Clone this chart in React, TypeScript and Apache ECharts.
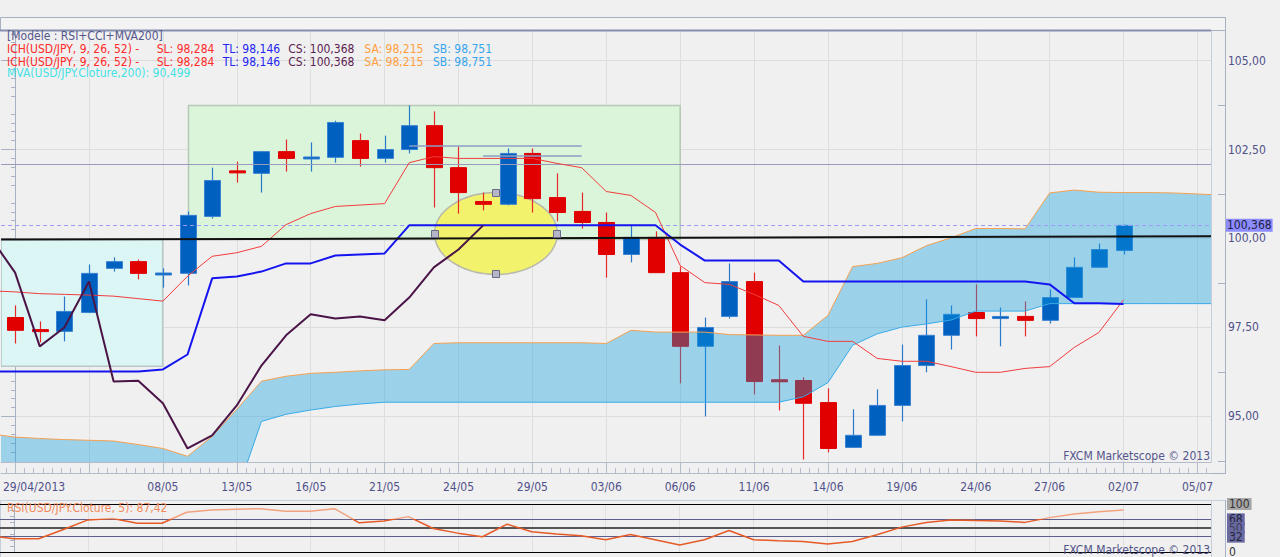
import React, { useEffect, useRef } from "react";
import * as echarts from "echarts";

const FONT = '"DejaVu Sans Condensed", "Liberation Sans", sans-serif';
const FS = 12;

const XMIN = -0.57;
const XMAX = 48.55;
const YMIN = 93.72;
const YMAX = 105.83;
const RSI_TOP = 504;
const RSI_H = 48;

// x-axis: candle index of each major tick and its label
const majorTickIndex = [0, 3, 6, 9, 12, 15, 18, 21, 24, 27, 30, 33, 36, 39, 42, 45, 48];
const majorTickLabels = ["29/04/2013", "", "08/05", "13/05", "16/05", "21/05", "24/05", "29/05", "03/06", "06/06", "11/06", "14/06", "19/06", "24/06", "27/06", "02/07", "05/07"];
const priceTicks = [95, 97.5, 100, 102.5, 105];

// candles (index 0..45)
const opens = [97.78, 97.44, 97.39, 97.92, 99.16, 99.35, 99.0, 99.02, 100.62, 101.9, 101.83, 102.44, 102.26, 102.28, 102.75, 102.25, 102.5, 103.17, 101.99, 101.04, 100.96, 102.39, 101.15, 100.76, 100.45, 99.55, 100.03, 99.04, 96.97, 97.81, 98.79, 96.03, 96.01, 95.39, 94.13, 94.47, 95.31, 96.43, 97.28, 97.92, 97.75, 97.81, 97.7, 98.34, 99.19, 99.66];
const closes = [97.42, 97.4, 97.95, 99.02, 99.35, 99.02, 99.03, 100.65, 101.63, 101.86, 102.44, 102.25, 102.29, 103.26, 102.25, 102.5, 103.17, 101.99, 101.29, 100.96, 102.39, 101.12, 100.73, 100.45, 99.55, 100.03, 99.04, 96.97, 97.5, 98.79, 95.98, 96.0, 95.37, 94.1, 94.47, 95.31, 96.43, 97.28, 97.87, 97.75, 97.81, 97.7, 98.34, 99.19, 99.69, 100.368];
const lows = [97.05, 97.08, 97.11, 97.9, 99.07, 98.85, 98.62, 98.68, 100.56, 101.57, 101.29, 101.88, 101.88, 102.13, 102.02, 102.13, 102.39, 100.87, 100.7, 100.79, 100.93, 100.73, 100.48, 100.28, 98.9, 99.33, 99.04, 95.93, 95.0, 97.75, 95.62, 95.17, 93.79, 93.99, 94.13, 94.47, 94.86, 96.24, 96.88, 97.25, 96.97, 97.25, 97.61, 98.34, 99.19, 99.55];
const highs = [98.12, 97.67, 98.37, 99.27, 99.47, 99.41, 99.16, 100.76, 101.99, 102.16, 102.46, 102.78, 102.7, 103.31, 102.95, 102.89, 103.74, 103.57, 102.58, 101.29, 102.53, 102.53, 101.83, 101.29, 100.73, 100.39, 100.2, 99.21, 97.78, 99.3, 99.04, 96.99, 96.1, 95.79, 95.2, 95.76, 97.02, 98.29, 98.12, 98.71, 98.06, 98.23, 98.57, 99.47, 99.86, 100.39];

// Ichimoku lines, starting at index -1
const signalLine = [98.53, 98.5, 98.45, 98.43, 98.41, 98.38, 98.31, 98.24, 98.94, 99.5, 99.6, 99.78, 100.39, 100.7, 100.9, 100.94, 100.98, 102.13, 102.3, 102.25, 102.25, 102.25, 102.25, 102.11, 101.99, 101.32, 101.21, 100.73, 99.24, 98.76, 98.71, 98.43, 98.12, 97.25, 97.11, 97.11, 96.63, 96.55, 96.55, 96.4, 96.24, 96.24, 96.35, 96.4, 96.94, 97.36, 98.28];
const trendLineTL = [96.26, 96.26, 96.26, 96.26, 96.26, 96.26, 96.26, 96.32, 96.74, 98.88, 98.93, 99.07, 99.3, 99.3, 99.52, 99.55, 99.58, 100.37, 100.37, 100.37, 100.37, 100.37, 100.37, 100.37, 100.37, 100.37, 100.37, 100.37, 99.83, 99.38, 99.38, 99.38, 99.38, 98.79, 98.79, 98.79, 98.79, 98.79, 98.79, 98.79, 98.79, 98.79, 98.79, 98.71, 98.18, 98.18, 98.16];
// cloud, index -1 .. 49
const spanA = [94.51, 94.42, 94.38, 94.35, 94.33, 94.31, 94.21, 94.1, 93.88, 94.44, 95.2, 95.99, 96.13, 96.21, 96.24, 96.28, 96.31, 96.32, 97.05, 97.07, 97.07, 97.07, 97.07, 97.07, 97.07, 97.05, 97.42, 97.37, 97.37, 97.37, 97.3, 97.29, 97.28, 97.28, 97.84, 99.21, 99.3, 99.46, 99.8, 100.02, 100.28, 100.28, 100.27, 101.28, 101.36, 101.3, 101.29, 101.29, 101.28, 101.25, 101.22];
const spanB = [92.85, 92.85, 92.85, 92.85, 92.85, 92.85, 92.85, 92.85, 92.85, 92.85, 92.85, 94.86, 95.06, 95.18, 95.28, 95.35, 95.4, 95.4, 95.4, 95.4, 95.4, 95.4, 95.4, 95.4, 95.4, 95.4, 95.4, 95.4, 95.4, 95.4, 95.4, 95.4, 95.4, 95.55, 95.95, 97.0, 97.32, 97.51, 97.6, 97.71, 97.96, 97.96, 97.96, 98.17, 98.17, 98.17, 98.17, 98.17, 98.17, 98.17, 98.17];
// RSI(5), index -1 .. 45
const rsiValues = [34, 27.5, 27.5, 47, 66.9, 69.6, 60, 60, 82.8, 87.6, 89, 90.3, 84.9, 84.9, 90.3, 60.7, 64.8, 73.7, 48.9, 39.3, 31.7, 58, 42, 37.3, 33.7, 25.5, 36.4, 25.5, 14.5, 25.5, 44.7, 25.5, 23.4, 21.9, 16.6, 21.9, 35.8, 51.8, 61.3, 66.9, 65.8, 64.8, 61.7, 71.6, 79.3, 84.1, 87.4];
const rsiLevels = [100, 68, 50, 32, 0];

// drawn annotations (data coordinates)
const resistanceLevel = 102.08;
const lastClose = 100.368;
const blackTrend = [[XMIN, 99.97], [XMAX, 100.06]];
const shortLines = [[16, 23, 102.61], [19, 23, 102.33]];
const zoneRects = [[XMIN, 99.97, 5.99, 96.41], [7.04, 103.74, 27, 99.97]];
const highlightEllipse = [[19.52, 100.14, 2.49, 1.15]];

const RED = "#e00000";
const BLUE = "#0060c0";

const fromIndex = (arr: number[], start: number) => arr.map((v, i) => [start + i, v]);

const minorXTicks: number[] = [];
for (let k = -1; k * 0.375 <= XMAX; k++) if (k % 8 !== 0) minorXTicks.push(k * 0.375);
const minorYTicks: number[] = [];
const midYTicks: number[] = [];
for (let v = 93.75; v <= YMAX; v += 0.25) {
  const r = Math.round(v * 100) / 100;
  if (Math.abs(r / 2.5 - Math.round(r / 2.5)) < 1e-6) continue;
  if (Math.abs(r / 1.25 - Math.round(r / 1.25)) < 1e-6) midYTicks.push(r);
  else minorYTicks.push(r);
}

const fmt = (v: number, d: number) => v.toFixed(d).replace(".", ",");

function buildOption(): any {
  const candleData = opens.map((o, i) => [i, o, closes[i], lows[i], highs[i]]);
  const cloudData = spanA.map((a, i) => [i - 1, a, spanB[i]]);
  const chikou = closes.slice(25).map((v, i) => [i - 1, v]);

  const legendRows: any[] = [
    { y: 36, parts: [{ x: 7, t: "[Modèle : RSI+CCI+MVA200]", c: "#55558a" }] },
    {
      y: 49.3,
      parts: [
        { x: 7, t: "ICH(USD/JPY, 9, 26, 52) -", c: "#ff2a2a" },
        { x: 156.7, t: "SL: 98,284", c: "#ff2a2a" },
        { x: 222.7, t: "TL: 98,146", c: "#2424f0" },
        { x: 288.3, t: "CS: " + fmt(lastClose, 3), c: "#5c2252" },
        { x: 364.3, t: "SA: 98,215", c: "#ffa040" },
        { x: 433, t: "SB: 98,751", c: "#38a6ee" },
      ],
    },
  ];
  legendRows.push({ y: 61.7, parts: legendRows[1].parts });
  legendRows.push({ y: 73.3, parts: [{ x: 7, t: "MVA(USD/JPY.Cloture,200): 90,499", c: "#44e2e6" }] });

  const texts: any[] = [];
  legendRows.forEach((row: any) =>
    row.parts.forEach((p: any) =>
      texts.push({
        type: "text", x: p.x, y: row.y, silent: true, z: 100,
        style: { text: p.t, fill: p.c, font: `${FS}px ${FONT}`, align: "left", verticalAlign: "middle" },
      })
    )
  );
  texts.push({
    type: "text", x: 7, y: 508, silent: true, z: 100,
    style: { text: "RSI(USD/JPY.Cloture, 5): 87,42", fill: "#f08a5c", font: `${FS}px ${FONT}`, align: "left", verticalAlign: "middle" },
  });
  [455.7, 549.5].forEach((y) =>
    texts.push({
      type: "text", x: 1210, y, silent: true, z: 100,
      style: { text: "FXCM Marketscope © 2013", fill: "#55558a", font: `${FS}px ${FONT}`, align: "right", verticalAlign: "middle" },
    })
  );

  const frameColor = "#a8b0c4";
  const lightFrame = "#c6cedc";
  const ln = (x1: number, y1: number, x2: number, y2: number, stroke: string, w = 1) => ({
    type: "line", silent: true, z: 90, shape: { x1, y1, x2, y2 }, style: { stroke, lineWidth: w },
  });
  const frame: any[] = [
    { type: "rect", silent: true, z: 0, shape: { x: 0.5, y: 17.5, width: 1225, height: 13 }, style: { fill: "#f3f3f3", stroke: frameColor, lineWidth: 1 } },
    ln(0, 30.5, 1211, 30.5, "#868eb0", 2),
    ln(1211.5, 31, 1211.5, 462, lightFrame),
    ln(1225.5, 17, 1225.5, 474, frameColor),
    ln(1211, 473.5, 1225.5, 473.5, frameColor),
    { type: "rect", silent: true, z: 0, shape: { x: 0.5, y: 500.5, width: 1225, height: 60 }, style: { fill: "none", stroke: lightFrame, lineWidth: 1 } },
    ln(1211.5, 500, 1211.5, 557, lightFrame),
    ln(1225.5, 500, 1225.5, 557, frameColor),
  ];

  const axisLabelStyle = { color: "#50508a", fontSize: FS, fontFamily: FONT };

  const rsiLabelBase = { show: true, position: "end", distance: 16, padding: [0, 2, 0, 2], fontSize: FS, fontFamily: FONT };
  const rsiStyles: any = {
    100: { line: { color: "#000", width: 1, type: "solid" }, bg: "#a6a6a6", fg: "#333" },
    68: { line: { color: "#5e5e8c", width: 1, type: "solid" }, bg: "#6a6aa2", fg: "#22223c" },
    50: { line: { color: "#555", width: 2, type: "solid" }, bg: "#6a6aa2", fg: "#3c3c58" },
    32: { line: { color: "#5e5e8c", width: 1, type: "solid" }, bg: "#6a6aa2", fg: "#22223c" },
    0: { line: { color: "#000", width: 1, type: "solid" }, bg: "transparent", fg: "#333" },
  };
  const split = (100 - 68) / 100;
  const rsiGradient = {
    type: "linear", x: 0, y: RSI_TOP, x2: 0, y2: RSI_TOP + RSI_H, global: true,
    colorStops: [
      { offset: 0, color: "#f3a27e" }, { offset: split, color: "#f3a27e" },
      { offset: split, color: "#e65a26" }, { offset: 1, color: "#e65a26" },
    ],
  };

  return {
    animation: false,
    backgroundColor: "#f0f0f0",
    grid: [
      { left: 0, right: 69, top: 31, height: 431 },
      { left: 0, right: 69, top: RSI_TOP, height: RSI_H },
    ],
    xAxis: [
      {
        type: "value", gridIndex: 0, min: XMIN, max: XMAX, position: "bottom",
        axisLine: { show: true, lineStyle: { color: "#b4bccc", width: 1 } },
        axisTick: { show: true, customValues: majorTickIndex, length: 11, lineStyle: { color: "#b4bccc" } },
        axisLabel: {
          show: true, customValues: majorTickIndex, margin: 25, verticalAlign: "middle", ...axisLabelStyle,
          formatter: (v: number) => {
            const i = majorTickIndex.indexOf(Math.round(v));
            const t = i >= 0 ? majorTickLabels[i] : "";
            return i === 0 ? "{first|" + t + "}" : t;
          },
          rich: { first: { padding: [0, 0, 0, 38], ...axisLabelStyle } },
        },
        splitLine: { show: true, lineStyle: { color: "#dedede" } },
      },
      {
        type: "value", gridIndex: 0, min: XMIN, max: XMAX, position: "bottom", offset: 11,
        axisLine: { show: true, lineStyle: { color: "#b4bccc" } },
        axisTick: { show: true, inside: true, customValues: minorXTicks, length: 5, lineStyle: { color: "#b4bccc" } },
        axisLabel: { show: false },
        splitLine: { show: false },
      },
      {
        type: "value", gridIndex: 1, min: XMIN, max: XMAX,
        axisLine: { show: false },
        axisTick: { show: false, customValues: majorTickIndex },
        axisLabel: { show: false },
        splitLine: { show: true, lineStyle: { color: "#e0e0e0" } },
      },
    ],
    yAxis: [
      {
        type: "value", gridIndex: 0, min: YMIN, max: YMAX, position: "right", offset: 14,
        axisLine: { show: true, lineStyle: { color: frameColor } },
        axisTick: { show: true, inside: true, length: 14, customValues: priceTicks, lineStyle: { color: frameColor } },
        axisLabel: { show: true, customValues: priceTicks, margin: 3, formatter: (v: number) => fmt(v, 2), ...axisLabelStyle },
        splitLine: { show: true, lineStyle: { color: "#dcdcdc" } },
      },
      {
        type: "value", gridIndex: 0, min: YMIN, max: YMAX, position: "right", offset: 14,
        axisLine: { show: false },
        axisTick: { show: true, inside: true, length: 4, customValues: minorYTicks, lineStyle: { color: frameColor } },
        axisLabel: { show: false }, splitLine: { show: false },
      },
      {
        type: "value", gridIndex: 0, min: YMIN, max: YMAX, position: "right", offset: 14,
        axisLine: { show: false },
        axisTick: { show: true, inside: true, length: 7, customValues: midYTicks, lineStyle: { color: frameColor } },
        axisLabel: { show: false }, splitLine: { show: false },
      },
      {
        type: "value", gridIndex: 1, min: 0, max: 100, interval: 12.5, position: "right", offset: 14,
        axisLine: { show: true, lineStyle: { color: frameColor } },
        axisTick: { show: true, inside: true, length: 4, lineStyle: { color: frameColor } },
        axisLabel: { show: false }, splitLine: { show: false },
      },
    ],
    series: [
      {
        name: "zones", type: "custom", xAxisIndex: 0, yAxisIndex: 0, z: 1, clip: true, silent: true,
        data: zoneRects,
        encode: { x: [0, 2], y: [1, 3] },
        renderItem: (params: any, api: any) => {
          const p0 = api.coord([api.value(0), api.value(1)]);
          const p1 = api.coord([api.value(2), api.value(3)]);
          const green = params.dataIndex === 1;
          return {
            type: "rect",
            shape: { x: p0[0], y: p0[1], width: p1[0] - p0[0], height: p1[1] - p0[1] },
            style: { fill: green ? "#dbf5da" : "#dcf5f5", stroke: green ? "#b6c8b6" : "#b6c8c8", lineWidth: 1.5 },
          };
        },
      },
      {
        name: "ellipse", type: "custom", xAxisIndex: 0, yAxisIndex: 0, z: 2, silent: true,
        data: highlightEllipse,
        encode: { x: 0, y: 1 },
        renderItem: (params: any, api: any) => {
          const c = api.coord([api.value(0), api.value(1)]);
          const s = api.size([api.value(2), api.value(3)]);
          return { type: "ellipse", shape: { cx: c[0], cy: c[1], rx: s[0], ry: s[1] }, style: { fill: "#f2f26c", stroke: "#b8b8ac", lineWidth: 1.5 } };
        },
      },
      {
        name: "candles", type: "custom", xAxisIndex: 0, yAxisIndex: 0, z: 3, clip: true,
        data: candleData,
        encode: { x: 0, y: [1, 2, 3, 4] },
        renderItem: (params: any, api: any) => {
          const x = api.value(0), o = api.value(1), c = api.value(2), l = api.value(3), h = api.value(4);
          const top = api.coord([x, Math.max(o, c)]);
          const bot = api.coord([x, Math.min(o, c)]);
          const hi = api.coord([x, h]);
          const lo = api.coord([x, l]);
          const up = c >= o;
          const cx = Math.round(top[0]) + 0.5;
          const bh = Math.max(bot[1] - top[1], 2);
          return {
            type: "group",
            children: [
              { type: "line", shape: { x1: cx, y1: hi[1], x2: cx, y2: lo[1] }, style: { stroke: up ? "#2a78cc" : "#e62828", lineWidth: 1.2 } },
              { type: "rect", shape: { x: cx - 8, y: top[1], width: 16, height: bh }, style: { fill: up ? BLUE : RED, stroke: up ? "#3a82d2" : RED, lineWidth: 1 } },
            ],
          };
        },
      },
      {
        name: "cloud", type: "custom", xAxisIndex: 0, yAxisIndex: 0, z: 4, clip: true, silent: true,
        data: cloudData,
        encode: { x: 0, y: [1, 2] },
        renderItem: (params: any, api: any) => {
          if (params.dataIndexInside !== 0) return null;
          const n = params.dataInsideLength;
          const top: number[][] = [];
          const bot: number[][] = [];
          for (let i = 0; i < n; i++) {
            const x = api.value(0, i);
            top.push(api.coord([x, api.value(1, i)]));
            bot.push(api.coord([x, api.value(2, i)]));
          }
          return { type: "polygon", shape: { points: top.concat(bot.reverse()) }, style: { fill: "rgba(10,160,225,0.37)" } };
        },
      },
      { name: "SA", type: "line", xAxisIndex: 0, yAxisIndex: 0, z: 5, symbol: "none", data: fromIndex(spanA, -1), lineStyle: { color: "#f5a050", width: 1 } },
      { name: "SB", type: "line", xAxisIndex: 0, yAxisIndex: 0, z: 5, symbol: "none", data: fromIndex(spanB, -1), lineStyle: { color: "#38aae8", width: 1 } },
      { name: "SL", type: "line", xAxisIndex: 0, yAxisIndex: 0, z: 5, symbol: "none", data: fromIndex(signalLine, -1), lineStyle: { color: "#f23c3c", width: 1 } },
      { name: "TL", type: "line", xAxisIndex: 0, yAxisIndex: 0, z: 5, symbol: "none", data: fromIndex(trendLineTL, -1), lineStyle: { color: "#1414f0", width: 2 } },
      { name: "CS", type: "line", xAxisIndex: 0, yAxisIndex: 0, z: 5, symbol: "none", data: chikou, lineStyle: { color: "#4a1446", width: 2 } },
      {
        name: "trend", type: "line", xAxisIndex: 0, yAxisIndex: 0, z: 5, symbol: "none", data: blackTrend, lineStyle: { color: "#111", width: 2 },
        markLine: {
          silent: true, symbol: ["none", "none"], animation: false,
          label: { show: false },
          data: [
            { yAxis: resistanceLevel, lineStyle: { color: "#9a9abb", width: 1, type: "solid" } },
            {
              yAxis: lastClose, lineStyle: { color: "#9c9cf6", width: 1, type: [4, 3] },
              label: { show: true, position: "end", distance: 15, formatter: fmt(lastClose, 3), backgroundColor: "#8c8cff", color: "#1c1c44", padding: [1, 1, 0, 1], fontSize: FS, fontFamily: FONT },
            },
            ...shortLines.map((s) => [
              { coord: [s[0], s[2]], lineStyle: { color: "#8c9cc6", width: 1.5, type: "solid" } },
              { coord: [s[1], s[2]] },
            ]),
          ],
        },
      },
      {
        name: "handles", type: "custom", xAxisIndex: 0, yAxisIndex: 0, z: 6, silent: true,
        data: highlightEllipse,
        encode: { x: 0, y: 1 },
        renderItem: (params: any, api: any) => {
          const c = api.coord([api.value(0), api.value(1)]);
          const s = api.size([api.value(2), api.value(3)]);
          const pts = [[c[0], c[1] - s[1]], [c[0], c[1] + s[1]], [c[0] - s[0], c[1]], [c[0] + s[0], c[1]]];
          return {
            type: "group",
            children: pts.map((p) => ({ type: "rect", shape: { x: Math.round(p[0]) - 3.5, y: Math.round(p[1]) - 3.5, width: 7, height: 7 }, style: { fill: "#b6b6c6", stroke: "#686888", lineWidth: 1 } })),
          };
        },
      },
      {
        name: "RSI", type: "line", xAxisIndex: 2, yAxisIndex: 3, z: 5, symbol: "none", data: fromIndex(rsiValues, -1),
        lineStyle: { width: 1.5, color: rsiGradient },
        markLine: {
          silent: true, symbol: ["none", "none"], animation: false,
          data: rsiLevels.map((lv) => ({
            yAxis: lv,
            lineStyle: rsiStyles[lv].line,
            label: { ...rsiLabelBase, formatter: String(lv), backgroundColor: rsiStyles[lv].bg, color: rsiStyles[lv].fg },
          })),
        },
      },
    ],
    graphic: { elements: [...frame, ...texts] },
  };
}

export default function App() {
  const ref = useRef<HTMLDivElement>(null);
  useEffect(() => {
    if (!ref.current) return;
    const chart = echarts.init(ref.current, null, { renderer: "svg" });
    chart.setOption(buildOption());
    return () => chart.dispose();
  }, []);
  return <div ref={ref} style={{ position: "fixed", left: 0, top: 0, width: 1280, height: 557 }} />;
}
